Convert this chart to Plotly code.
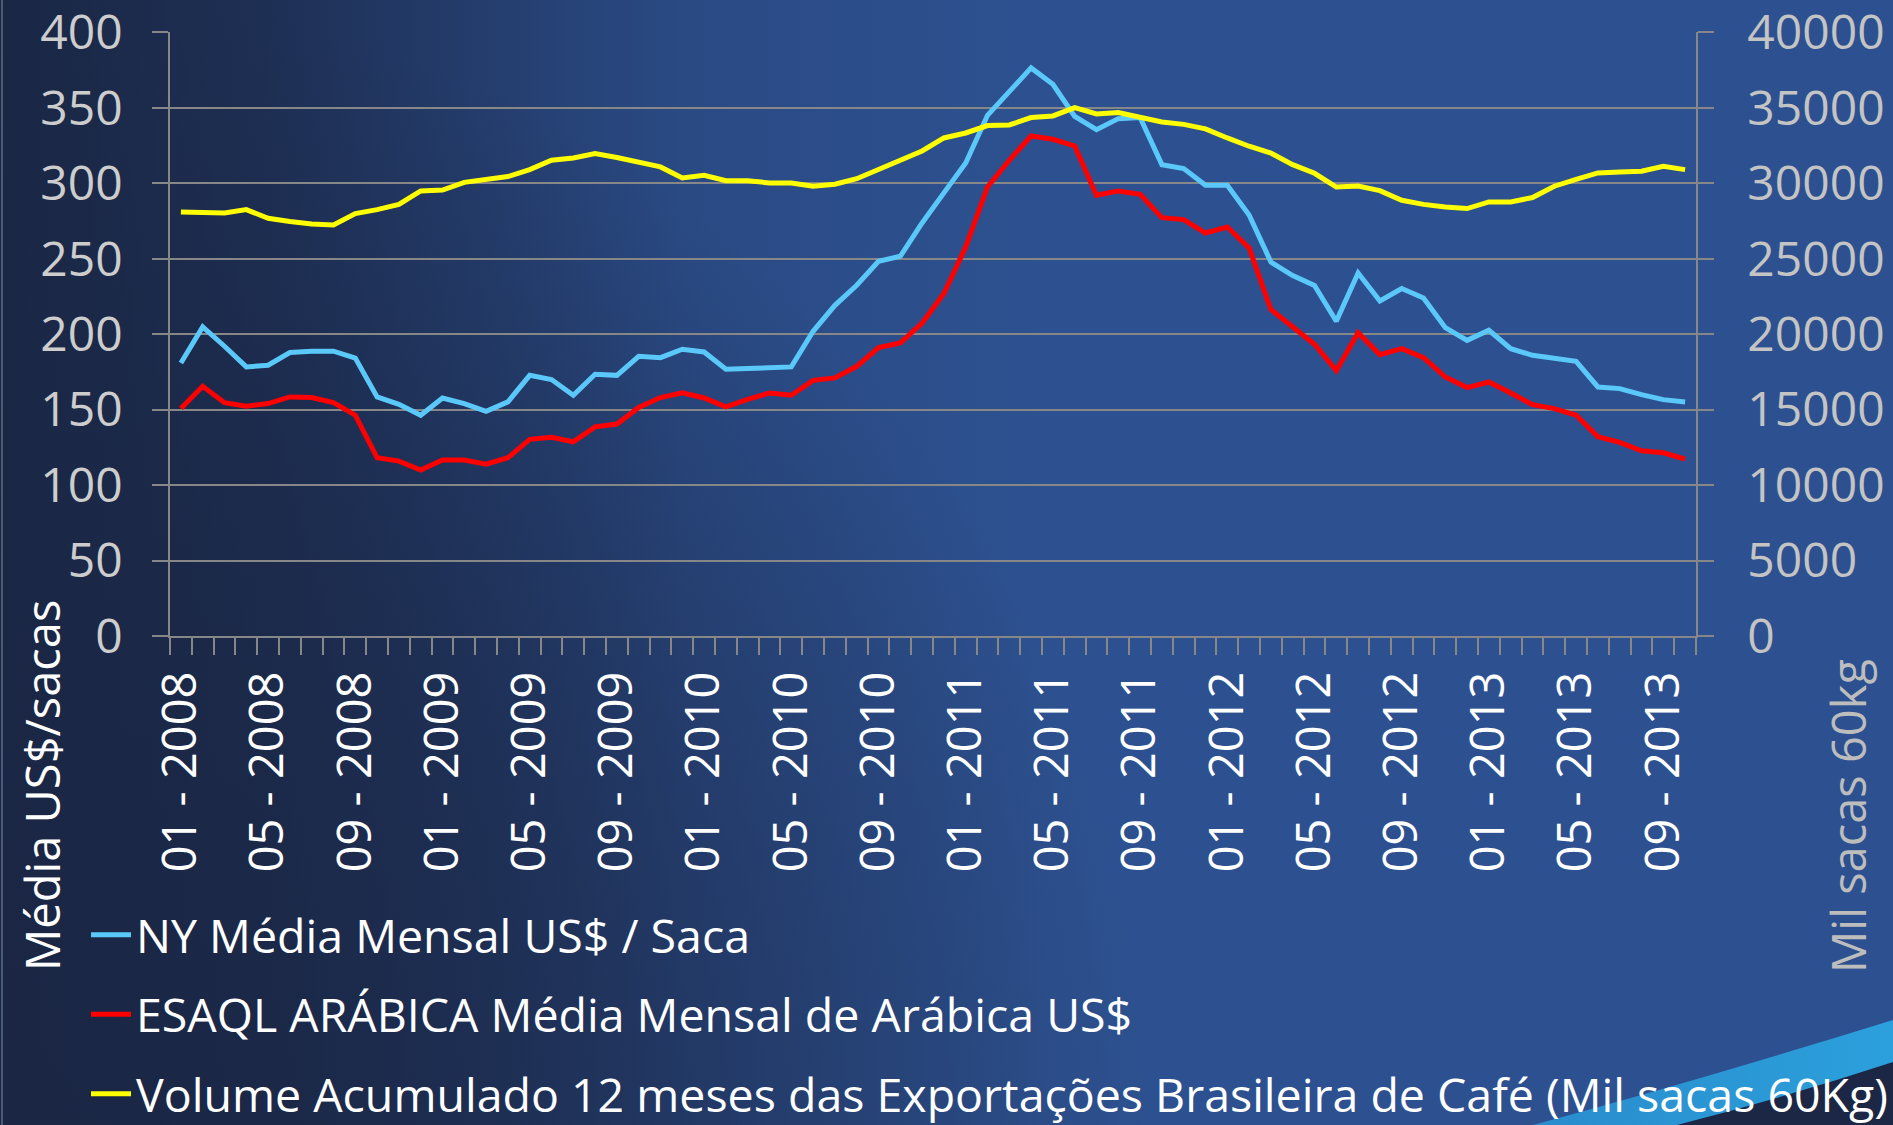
import base64
import plotly.graph_objects as go

# ---------------- data ----------------
months = [f"{m:02d} - {y}" for y in range(2008, 2014) for m in range(1, 13)][:70]

ny_media = [180.9, 204.8, 192.0, 178.3, 179.4, 187.8, 188.7, 188.7, 184.2, 158.4,
            153.5, 146.3, 157.7, 154.0, 148.9, 155.1, 172.7, 169.9, 159.5, 173.4,
            172.7, 185.3, 184.4, 190.0, 188.2, 176.7, 177.2, 177.6, 178.3, 201.9,
            219.1, 232.4, 248.3, 251.6, 273.7, 293.6, 313.4, 345.0, 361.1, 376.4,
            365.5, 344.3, 335.5, 342.8, 343.5, 312.3, 309.7, 298.6, 298.6, 279.0,
            247.8, 238.8, 232.2, 208.5, 240.5, 222.0, 230.2, 224.0, 204.3, 195.9,
            202.6, 190.4, 186.0, 184.2, 182.0, 165.0, 163.9, 159.9, 156.6, 155.1]

esaql_arabica = [150.7, 165.5, 154.6, 152.2, 154.0, 158.4, 158.0, 154.6, 146.3, 118.1,
                 115.9, 109.9, 116.6, 116.6, 113.9, 118.1, 130.3, 131.6, 128.7, 138.6,
                 140.4, 151.4, 158.0, 161.2, 157.7, 151.8, 156.8, 161.0, 159.5, 169.4,
                 171.0, 178.7, 191.1, 194.2, 207.4, 226.9, 257.8, 297.5, 315.2, 331.3,
                 329.1, 324.7, 292.0, 294.9, 292.7, 277.2, 275.9, 267.0, 271.0, 257.2,
                 216.3, 204.8, 193.3, 175.8, 201.0, 186.4, 190.4, 184.4, 171.6, 164.6,
                 168.3, 161.0, 153.3, 150.7, 146.3, 132.0, 128.3, 122.7, 121.4, 117.2]

volume_12m = [28100, 28100, 28030, 28250, 27680, 27460, 27300, 27240, 27990, 28250,
              28600, 29490, 29550, 30060, 30280, 30440, 30900, 31520, 31670, 31960,
              31700, 31430, 31080, 30350, 30530, 30170, 30170, 30020, 30020, 29800,
              29930, 30300, 30900, 31560, 32140, 33000, 33330, 33820, 33860, 34350,
              34460, 35010, 34590, 34680, 34350, 34060, 33900, 33600, 33000, 32450,
              32000, 31230, 30660, 29750, 29820, 29510, 28870, 28600, 28430, 28320,
              28760, 28760, 29050, 29800, 30260, 30680, 30750, 30790, 31120, 30900]

tick_labels = ["01 - 2008", "05 - 2008", "09 - 2008", "01 - 2009", "05 - 2009",
               "09 - 2009", "01 - 2010", "05 - 2010", "09 - 2010", "01 - 2011",
               "05 - 2011", "09 - 2011", "01 - 2012", "05 - 2012", "09 - 2012",
               "01 - 2013", "05 - 2013", "09 - 2013"]

y_left_ticks = [0, 50, 100, 150, 200, 250, 300, 350, 400]
y_right_ticks = [0, 5000, 10000, 15000, 20000, 25000, 30000, 35000, 40000]

names = ["NY Média Mensal US$ / Saca",
         "ESAQL ARÁBICA Média Mensal de Arábica US$",
         "Volume Acumulado 12 meses das Exportações Brasileira de Café (Mil sacas 60Kg)"]

# ---------------- layout constants ----------------
W, H = 1893, 1125
ML, MR, MT, MB = 170, 197, 32, 489
PW, PH = W - ML - MR, H - MT - MB
FONT = "Open Sans, Noto Sans, sans-serif"
GRID = "#878787"

x_idx = list(range(len(months)))
tick_idx = [months.index(t) for t in tick_labels]

# background (gradient + swoosh) as an inline SVG image
svg = f"""<svg xmlns='http://www.w3.org/2000/svg' width='{W}' height='{H}' viewBox='0 0 {W} {H}'>
<defs>
<linearGradient id='h' x1='0' y1='0' x2='{W}' y2='0' gradientUnits='userSpaceOnUse'>
<stop offset='0' stop-color='#1a2745'/>
<stop offset='0.14' stop-color='#1e2f54'/>
<stop offset='0.36' stop-color='#2a4a84'/>
<stop offset='0.55' stop-color='#2d5190'/>
<stop offset='1' stop-color='#2d5190'/>
</linearGradient>
<radialGradient id='r' cx='0' cy='{H}' r='1150' gradientUnits='userSpaceOnUse'>
<stop offset='0' stop-color='#1a2644' stop-opacity='0.95'/>
<stop offset='0.55' stop-color='#1a2644' stop-opacity='0.55'/>
<stop offset='1' stop-color='#1a2644' stop-opacity='0'/>
</radialGradient>
<linearGradient id='s' x1='1530' y1='0' x2='{W}' y2='0' gradientUnits='userSpaceOnUse'>
<stop offset='0' stop-color='#2a8ccc'/>
<stop offset='1' stop-color='#2ba0dc'/>
</linearGradient>
</defs>
<rect width='{W}' height='{H}' fill='url(#h)'/>
<rect width='{W}' height='{H}' fill='url(#r)'/>
<rect x='1' y='0' width='2' height='{H}' fill='#4b5b76'/>
<path d='M1533,{H} Q1700,1080 {W},1020 L{W},{H} Z' fill='url(#s)'/>
<path d='M1677,{H} Q1790,1096 {W},1062 L{W},{H} Z' fill='#1b2744'/>
</svg>"""
bg_src = "data:image/svg+xml;base64," + base64.b64encode(svg.encode()).decode()

fig = go.Figure()
fig.add_trace(go.Scatter(x=x_idx, y=ny_media, name=names[0], mode="lines",
                         line=dict(color="#5bc8fa", width=5), legendgroup="a"))
fig.add_trace(go.Scatter(x=x_idx, y=esaql_arabica, name=names[1], mode="lines",
                         line=dict(color="#ff0000", width=5), legendgroup="b"))
fig.add_trace(go.Scatter(x=x_idx, y=volume_12m, name=names[2], mode="lines",
                         line=dict(color="#ffff00", width=5), legendgroup="c",
                         yaxis="y2"))

fig.update_layout(
    width=W, height=H,
    margin=dict(l=ML, r=MR, t=MT, b=MB, autoexpand=False),
    paper_bgcolor="#1d2d50",
    plot_bgcolor="rgba(0,0,0,0)",
    font=dict(family=FONT, color="white"),
    showlegend=True,
    legend=dict(x=(86 - ML) / PW, y=(MT + PH - 898) / PH, xanchor="left", yanchor="top",
                font=dict(family=FONT, size=46.5, color="white"),
                bgcolor="rgba(0,0,0,0)", traceorder="grouped", tracegroupgap=16,
                itemwidth=40),
    xaxis=dict(range=[-0.5, len(months) - 0.5], tickmode="array", tickvals=tick_idx,
               ticktext=tick_labels, tickangle=-90, ticks="", showgrid=False,
               zeroline=False, showline=True, linecolor=GRID, linewidth=1.5,
               tickfont=dict(family=FONT, size=47, color="white"),
               ticklabelstandoff=15, automargin=False,
               minor=dict(tickmode="array", tickvals=[i - 0.5 for i in range(len(months) + 1)],
                          ticks="outside", ticklen=17, tickwidth=1.5, tickcolor=GRID,
                          showgrid=False)),
    yaxis=dict(range=[0, 400.2], tickmode="array", tickvals=y_left_ticks,
               ticktext=[str(v) for v in y_left_ticks],
               showgrid=True, gridcolor=GRID, gridwidth=1.5,
               zeroline=False, showline=True, linecolor=GRID, linewidth=1.5,
               ticks="outside", ticklen=16, tickwidth=1.5, tickcolor=GRID,
               tickfont=dict(family=FONT, size=48, color="#cdcdcd"),
               ticklabelstandoff=20, automargin=False, ticklabeloverflow="allow"),
    yaxis2=dict(range=[0, 40020], tickmode="array", tickvals=y_right_ticks,
                ticktext=[str(v) for v in y_right_ticks], overlaying="y", side="right",
                showgrid=False, zeroline=False, showline=True, linecolor=GRID,
                linewidth=1.5, ticks="outside", ticklen=16, tickwidth=1.5,
                tickcolor=GRID, tickfont=dict(family=FONT, size=48, color="#c4c4c4"),
                ticklabelstandoff=24, automargin=False, ticklabeloverflow="allow"),
    images=[dict(source=bg_src, xref="paper", yref="paper",
                 x=-ML / PW, y=1 + MT / PH, sizex=W / PW, sizey=H / PH,
                 xanchor="left", yanchor="top", sizing="stretch", layer="below")],
    annotations=[
        dict(text="Média US$/sacas", xref="paper", yref="paper",
             x=(42 - ML) / PW, y=(MT + PH - 786) / PH, xanchor="center", yanchor="middle",
             textangle=-90, showarrow=False,
             font=dict(family=FONT, size=47, color="white")),
        dict(text="Mil sacas 60kg", xref="paper", yref="paper",
             x=(1848 - ML) / PW, y=(MT + PH - 816) / PH, xanchor="center", yanchor="middle",
             textangle=-90, showarrow=False,
             font=dict(family=FONT, size=47, color="#bdbdbd")),
    ],
)

fig.write_html("out.html",
               config={"displayModeBar": False},
               post_script="document.body.style.margin='0';"
                           "document.body.style.padding='0';"
                           "document.body.style.background='#1d2d50';")
